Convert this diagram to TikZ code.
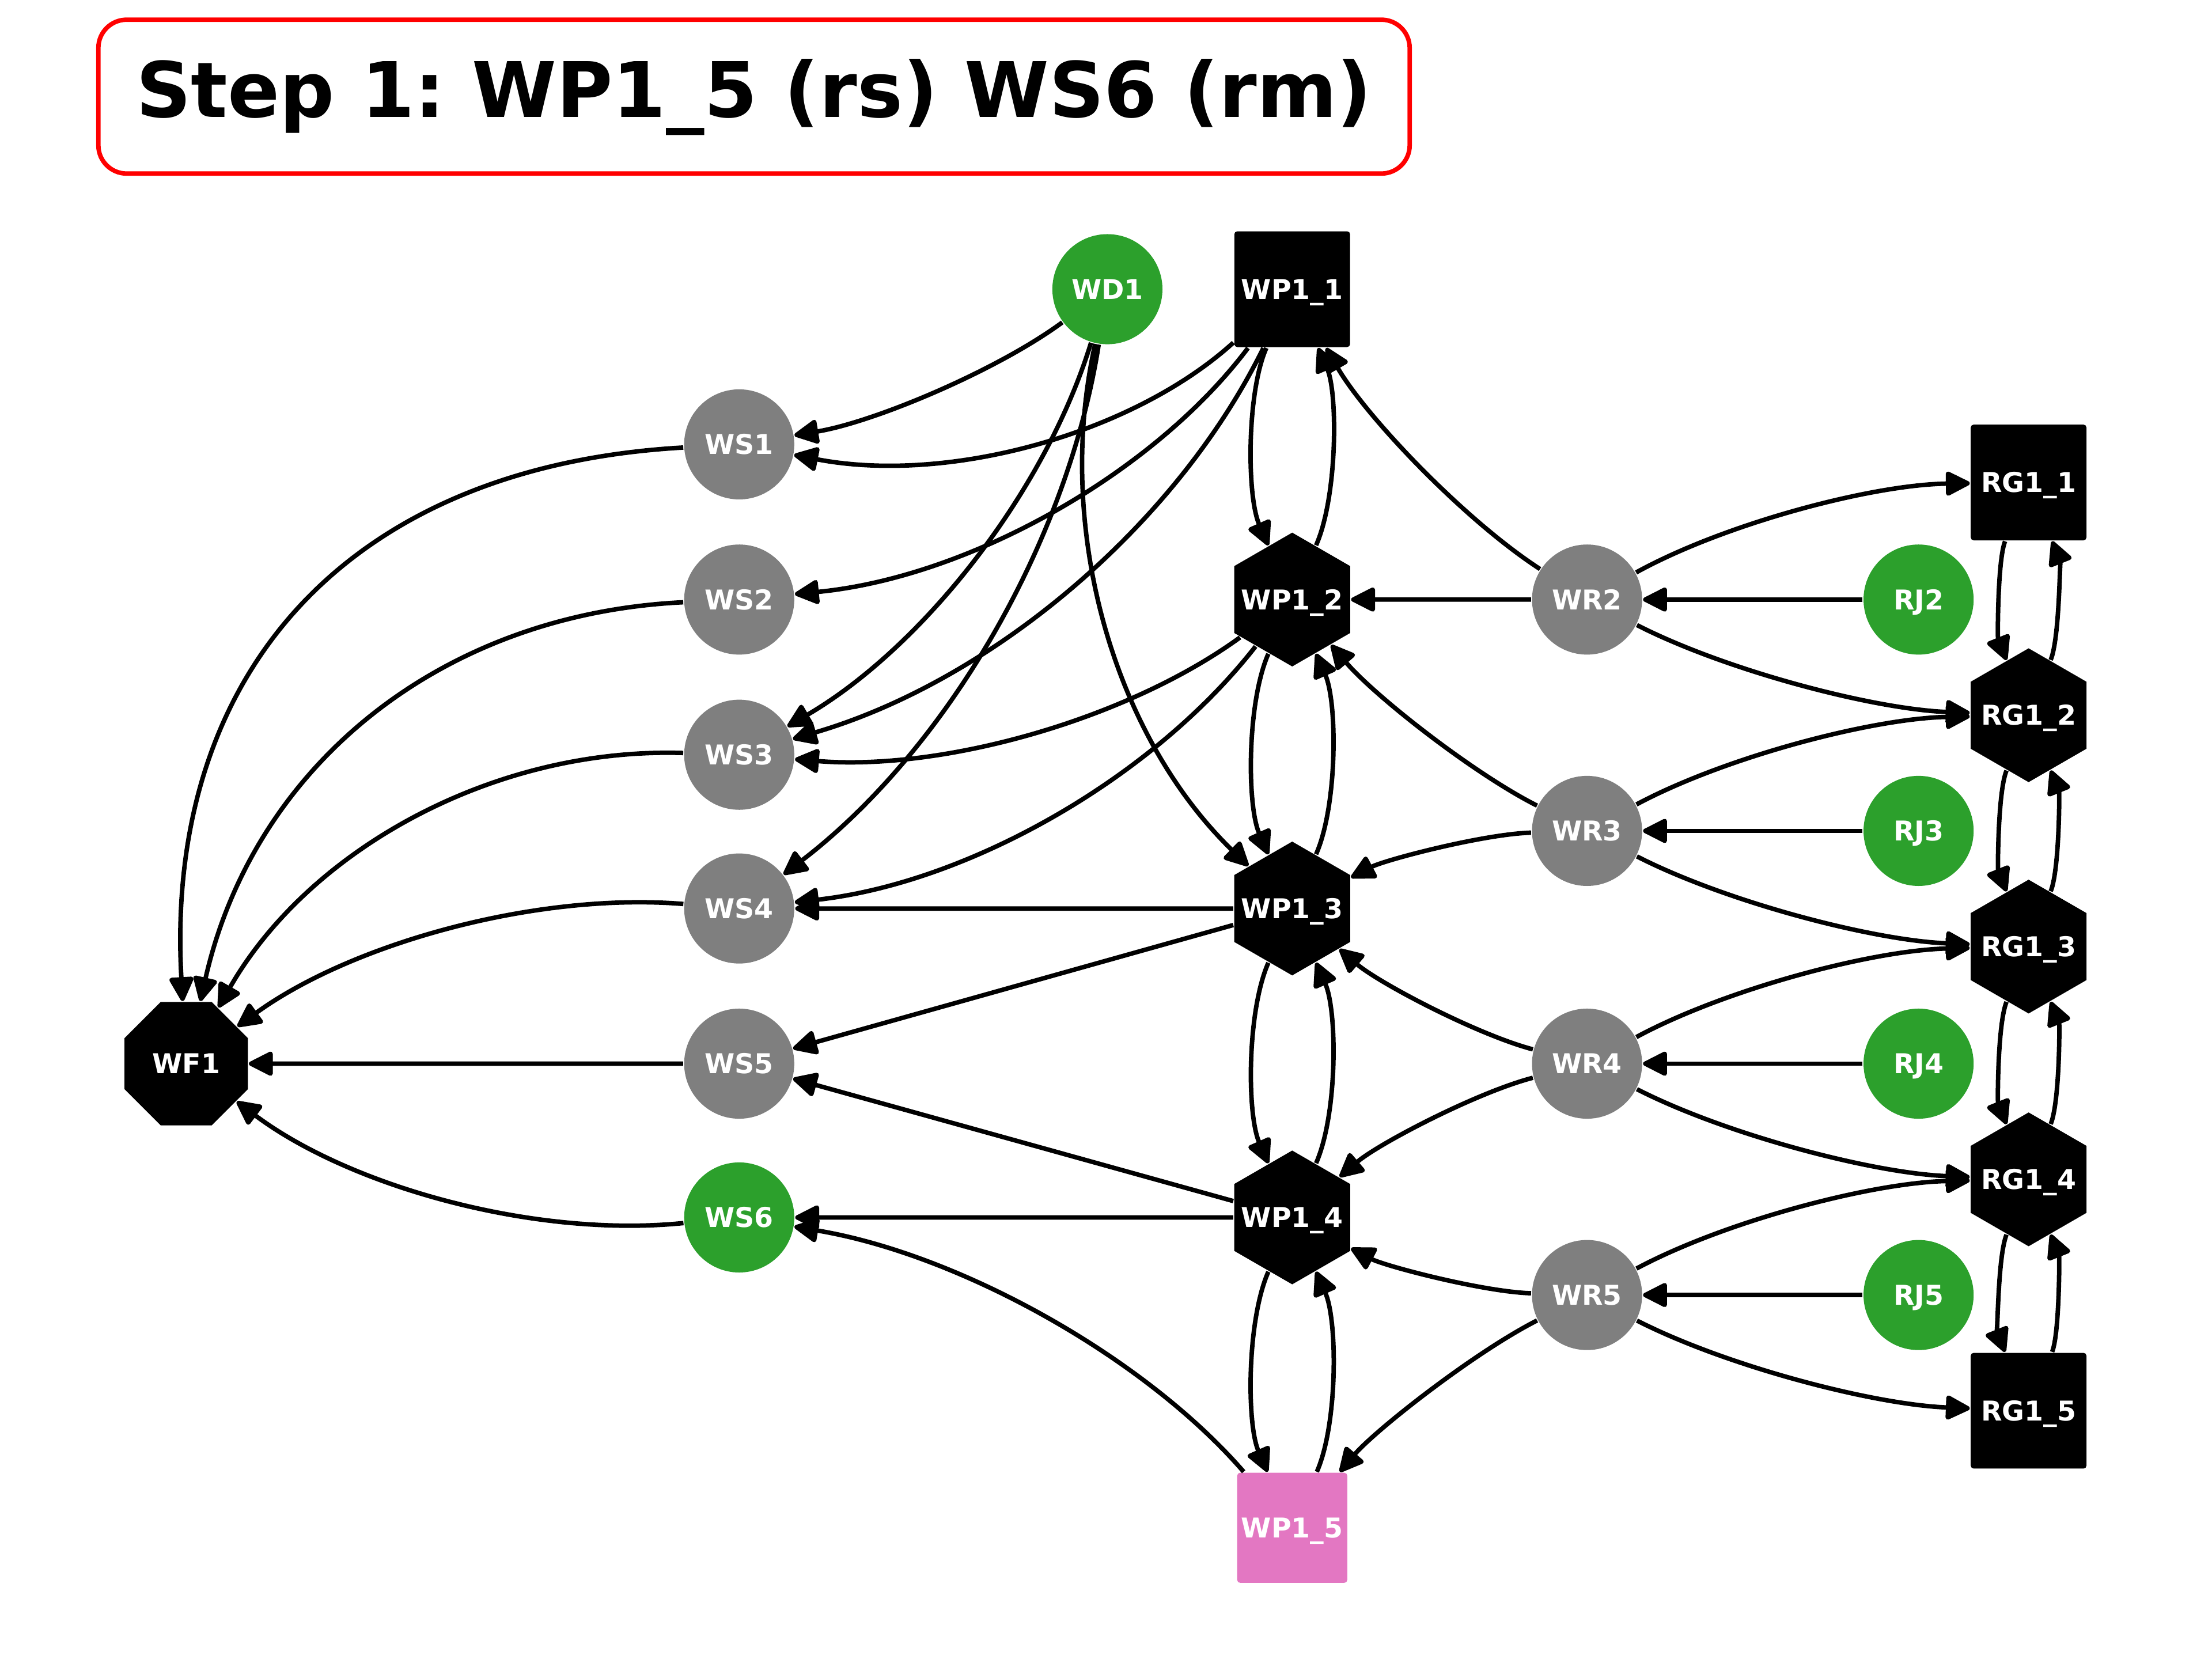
\documentclass[tikz,border=0pt]{standalone}
\usepackage{fontspec}
\setmainfont{DejaVu Sans}
\usetikzlibrary{arrows.meta,calc,shapes.geometric}
\definecolor{tgreen}{HTML}{2CA02C}
\definecolor{tgray}{HTML}{7F7F7F}
\definecolor{tpink}{HTML}{E377C2}
\frenchspacing
% quadratic arc from #1 to #2; #3 = 2*rad, positive bulges to the left of travel
\newcommand\qarc[3]{%
  \path ($(#1)!0.5!(#2)!#3!90:(#2)$) coordinate (qctl);
  \draw[conn] (#1) .. controls ($(#1)!0.6667!(qctl)$) and ($(#2)!0.6667!(qctl)$) .. (#2);
}
\newcommand\zw[1]{\makebox[0pt][c]{#1}}
\begin{document}
\begin{tikzpicture}[x=0.01cm,y=-0.01cm,
  lbl/.style={text=white,font=\fontsize{5.5pt}{6pt}\selectfont\bfseries,inner sep=0pt,text height=4pt,text depth=0pt},
  circ/.style={lbl,circle,minimum size=0.78cm},
  sq/.style={lbl,rectangle,rounded corners=0.6pt,minimum size=0.82cm,fill=black},
  hex/.style={lbl,regular polygon,regular polygon sides=6,shape border rotate=30,minimum size=0.948cm,fill=black},
  oct/.style={lbl,regular polygon,regular polygon sides=8,minimum size=0.946cm,fill=black},
  conn/.style={line width=0.9pt,-{Triangle[length=5.4pt,width=5.2pt,round]}},
  titlebox/.style={draw=red,line width=0.9pt,rounded corners=0.2cm,minimum width=9.29cm,minimum height=1.09cm,
    font=\fontsize{15.45pt}{18pt}\selectfont\bfseries,text height=0.40cm,text depth=0.11cm,inner sep=0pt},
]
\useasboundingbox (0,0) rectangle (1568,1176);

\node[titlebox] (title) at (534.5,68.5) {Step 1: WP1\_5 (rs) WS6 (rm)};

% nodes
\node[circ,fill=tgreen] (wd1) at (785,205) {\zw{WD1}};
\node[sq] (wp11) at (916,205) {\zw{WP1\_1}};
\node[circ,fill=tgray] (ws1) at (524,315) {\zw{WS1}};
\node[circ,fill=tgray] (ws2) at (524,425) {\zw{WS2}};
\node[circ,fill=tgray] (ws3) at (524,535) {\zw{WS3}};
\node[circ,fill=tgray] (ws4) at (524,644) {\zw{WS4}};
\node[circ,fill=tgray] (ws5) at (524,754) {\zw{WS5}};
\node[circ,fill=tgreen] (ws6) at (524,863) {\zw{WS6}};
\node[oct] (wf1) at (132,754) {\zw{WF1}};
\node[hex] (wp12) at (916,425) {\zw{WP1\_2}};
\node[hex] (wp13) at (916,644) {\zw{WP1\_3}};
\node[hex] (wp14) at (916,863) {\zw{WP1\_4}};
\node[sq,fill=tpink,minimum size=0.78cm] (wp15) at (916,1083) {\zw{WP1\_5}};
\node[circ,fill=tgray] (wr2) at (1125,425) {\zw{WR2}};
\node[circ,fill=tgray] (wr3) at (1125,589) {\zw{WR3}};
\node[circ,fill=tgray] (wr4) at (1125,754) {\zw{WR4}};
\node[circ,fill=tgray] (wr5) at (1125,918) {\zw{WR5}};
\node[circ,fill=tgreen] (rj2) at (1360,425) {\zw{RJ2}};
\node[circ,fill=tgreen] (rj3) at (1360,589) {\zw{RJ3}};
\node[circ,fill=tgreen] (rj4) at (1360,754) {\zw{RJ4}};
\node[circ,fill=tgreen] (rj5) at (1360,918) {\zw{RJ5}};
\node[sq] (rg11) at (1438,342) {\zw{RG1\_1}};
\node[hex] (rg12) at (1438,507) {\zw{RG1\_2}};
\node[hex] (rg13) at (1438,671) {\zw{RG1\_3}};
\node[hex] (rg14) at (1438,836) {\zw{RG1\_4}};
\node[sq] (rg15) at (1438,1000) {\zw{RG1\_5}};

% WS -> WF1
\qarc{ws1}{wf1}{-1.0}
\qarc{ws2}{wf1}{-0.76}
\qarc{ws3}{wf1}{-0.60}
\qarc{ws4}{wf1}{-0.37}
\draw[conn] (ws5) -- (wf1);
\qarc{ws6}{wf1}{0.39}

% WD1
\qarc{wd1}{ws1}{0.24}
\qarc{wd1}{ws3}{0.39}
\qarc{wd1}{ws4}{0.40}
\qarc{wd1}{wp13}{-0.56}

% WP1_1
\qarc{wp11}{ws1}{0.5}
\qarc{wp11}{ws2}{0.44}
\qarc{wp11}{ws3}{0.44}

% WP1_2
\qarc{wp12}{ws3}{0.37}
\qarc{wp12}{ws4}{0.42}

% WP1_3, WP1_4, WP1_5
\draw[conn] (wp13) -- (ws4);
\draw[conn] (wp13) -- (ws5);
\draw[conn] (wp14) -- (ws5);
\draw[conn] (wp14) -- (ws6);
\qarc{wp15}{ws6}{-0.36}

% WP chain
\qarc{wp11}{wp12}{-0.44}
\qarc{wp12}{wp11}{-0.44}
\qarc{wp12}{wp13}{-0.44}
\qarc{wp13}{wp12}{-0.44}
\qarc{wp13}{wp14}{-0.44}
\qarc{wp14}{wp13}{-0.44}
\qarc{wp14}{wp15}{-0.44}
\qarc{wp15}{wp14}{-0.44}

% WR -> WP
\qarc{wr2}{wp11}{0.24}
\draw[conn] (wr2) -- (wp12);
\qarc{wr3}{wp12}{0.2}
\qarc{wr3}{wp13}{-0.23}
\qarc{wr4}{wp13}{0.23}
\qarc{wr4}{wp14}{-0.23}
\qarc{wr5}{wp14}{0.23}
\qarc{wr5}{wp15}{-0.2}

% WR -> RG
\qarc{wr2}{rg11}{0.25}
\qarc{wr2}{rg12}{-0.22}
\qarc{wr3}{rg12}{0.24}
\qarc{wr3}{rg13}{-0.22}
\qarc{wr4}{rg13}{0.24}
\qarc{wr4}{rg14}{-0.22}
\qarc{wr5}{rg14}{0.24}
\qarc{wr5}{rg15}{-0.22}

% RJ -> WR
\draw[conn] (rj2) -- (wr2);
\draw[conn] (rj3) -- (wr3);
\draw[conn] (rj4) -- (wr4);
\draw[conn] (rj5) -- (wr5);

% RG chain
\qarc{rg11}{rg12}{-0.4}
\qarc{rg12}{rg11}{-0.4}
\qarc{rg12}{rg13}{-0.4}
\qarc{rg13}{rg12}{-0.4}
\qarc{rg13}{rg14}{-0.4}
\qarc{rg14}{rg13}{-0.4}
\qarc{rg14}{rg15}{-0.4}
\qarc{rg15}{rg14}{-0.4}
\end{tikzpicture}
\end{document}
